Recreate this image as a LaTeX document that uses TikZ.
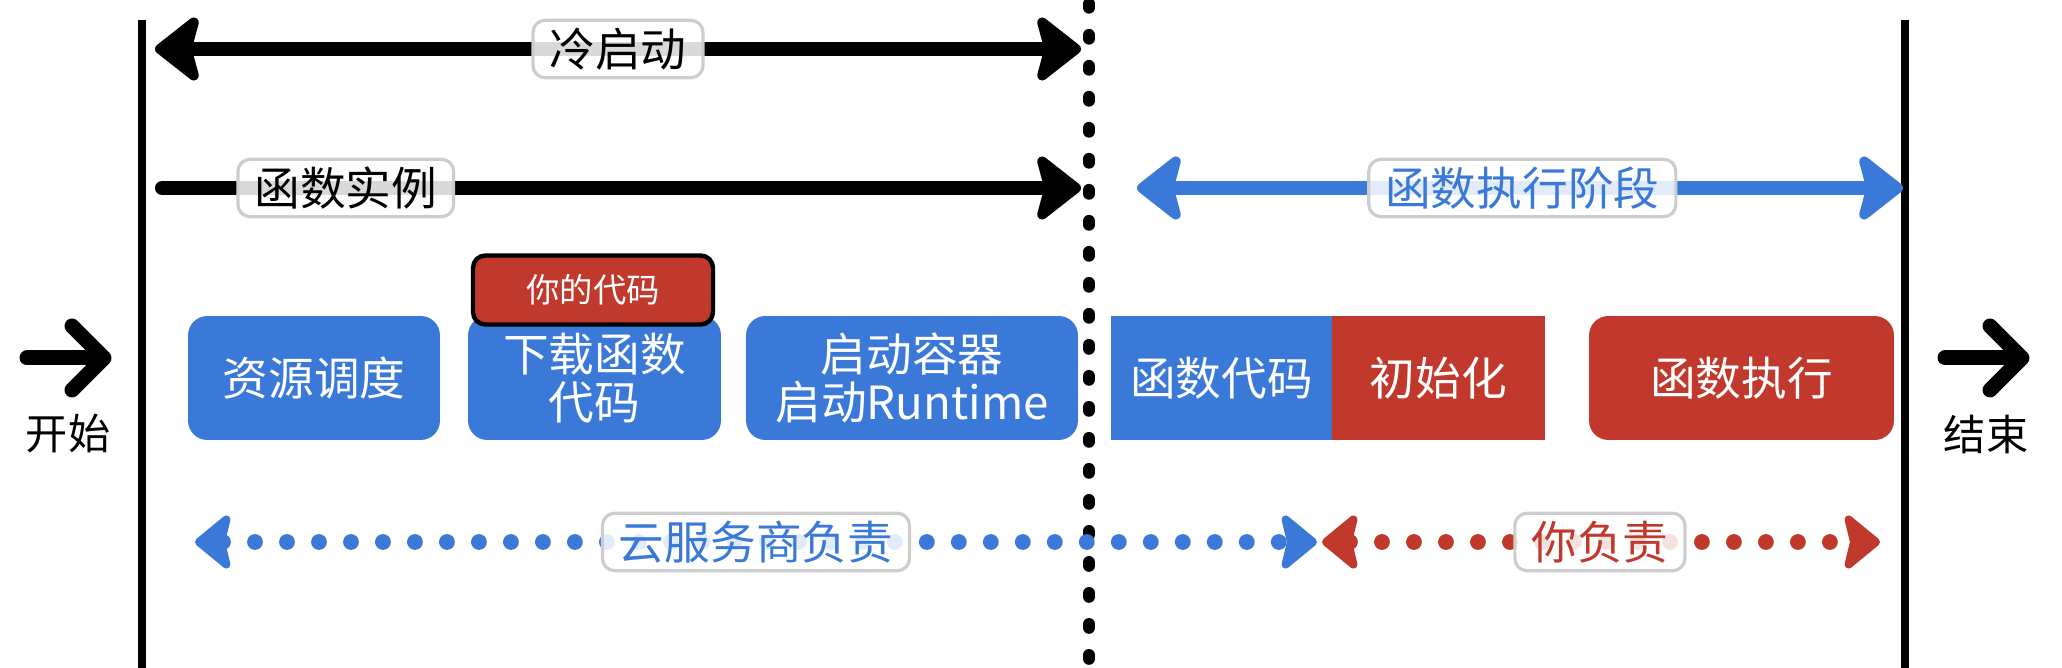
\documentclass[tikz,border=0pt]{standalone}
\usepackage{fontspec}
\setmainfont{Noto Sans CJK SC}
\usetikzlibrary{arrows.meta}
\definecolor{fblue}{RGB}{58,121,216}
\definecolor{fred}{RGB}{192,57,44}
\definecolor{lgray}{RGB}{205,205,205}

\begin{document}
\begin{tikzpicture}[x=0.02cm, y=-0.02cm,
    box/.style={fill=fblue, text=white, minimum height=2.48cm, inner sep=0pt, align=center, font=\fontsize{26}{27}\selectfont},
    tag/.style={draw=lgray, solid, line width=1.8pt, fill=white, fill opacity=0.85, text opacity=1, rounded corners=7pt, minimum height=1.15cm, inner xsep=0.33cm, inner ysep=0pt, font=\fontsize{26}{27}\selectfont},
    >={Stealth[length=1.0cm, width=1.55cm, inset=0.2cm, round]},
    fat arrow/.style={line width=8pt, line cap=round},
    dot arrow/.style={line width=9pt, line cap=round, dash pattern=on 0pt off 0.64cm, >={Stealth[length=0.8cm, width=1.3cm, inset=0.15cm, round]}, <->},
    chev/.style={line width=0.3cm, line cap=round, line join=round}]
    \useasboundingbox (0,0) rectangle (2062,668);

    % time borders
    \coordinate (left-top) at (142,20);
    \coordinate (left-bot) at (142,668);
    \coordinate (right-top) at (1905,20);
    \coordinate (right-bot) at (1905,668);
    \coordinate (mid-top) at (1089,4);
    \coordinate (mid-bot) at (1089,668);
    \draw[line width=4.5pt] (left-top) -- (left-bot);
    \draw[line width=4.5pt] (right-top) -- (right-bot);
    \draw[line width=7pt, line cap=round, dash pattern=on 2pt off 0.55cm] (mid-top) -- (mid-bot);

    % start / end
    \node[font=\fontsize{24}{26}\selectfont] (start) at (68,434) {开始};
    \node[font=\fontsize{24}{26}\selectfont] (finish) at (1986,434) {结束};
    \draw[chev] (27,358) -- (100,358);
    \draw[chev] (72,326) -- (104,358) -- (72,390);
    \draw[chev] (1945,358) -- (2018,358);
    \draw[chev] (1990,326) -- (2022,358) -- (1990,390);

    % phases
    \coordinate (cold-l) at (155,49);
    \coordinate (cold-r) at (1081,49);
    \coordinate (inst-l) at (162,188);
    \coordinate (inst-r) at (1081,188);
    \coordinate (run-l) at (1137,188);
    \coordinate (run-r) at (1903,188);
    \draw[fat arrow, <->] (cold-l) -- node[tag, pos=0.5] (coldlbl) {冷启动} (cold-r);
    \draw[fat arrow, ->] (inst-l) -- node[tag, pos=0.2] (instlbl) {函数实例} (inst-r);
    \draw[fat arrow, fblue, <->] (run-l) -- node[tag, pos=0.503, text=fblue] (runlbl) {函数执行阶段} (run-r);

    % steps
    \node[box, rounded corners=11pt, minimum width=5.04cm] (sched) at (314,378) {资源调度};
    \node[box, rounded corners=11pt, minimum width=5.06cm] (fetch) at (594.5,378) {下载函数\\代码};
    \node[fill=fred, draw=black, line width=2.5pt, rounded corners=7pt, text=white, minimum width=4.8cm, minimum height=1.38cm, inner sep=0pt, font=\fontsize{19}{20}\selectfont] (yours) at (593,290) {你的代码};
    \node[box, rounded corners=11pt, minimum width=6.64cm] (boot) at (912,378) {启动容器\\启动Runtime};
    \node[box, minimum width=4.42cm] (fcode) at (1221.5,378) {函数代码};
    \node[box, fill=fred, minimum width=4.26cm] (init) at (1438.5,378) {初始化};
    \node[box, fill=fred, rounded corners=11pt, minimum width=6.1cm] (exec) at (1741.5,378) {函数执行};

    % who is responsible
    \coordinate (cloud-l) at (195,542);
    \coordinate (cloud-r) at (1317,542);
    \coordinate (you-l) at (1322,542);
    \coordinate (you-r) at (1880,542);
    \draw[dot arrow, fblue] (cloud-l) -- node[tag, pos=0.5, text=fblue] (cloudlbl) {云服务商负责} (cloud-r);
    \draw[dot arrow, fred] (you-l) -- node[tag, pos=0.498, text=fred] (youlbl) {你负责} (you-r);
\end{tikzpicture}
\end{document}
